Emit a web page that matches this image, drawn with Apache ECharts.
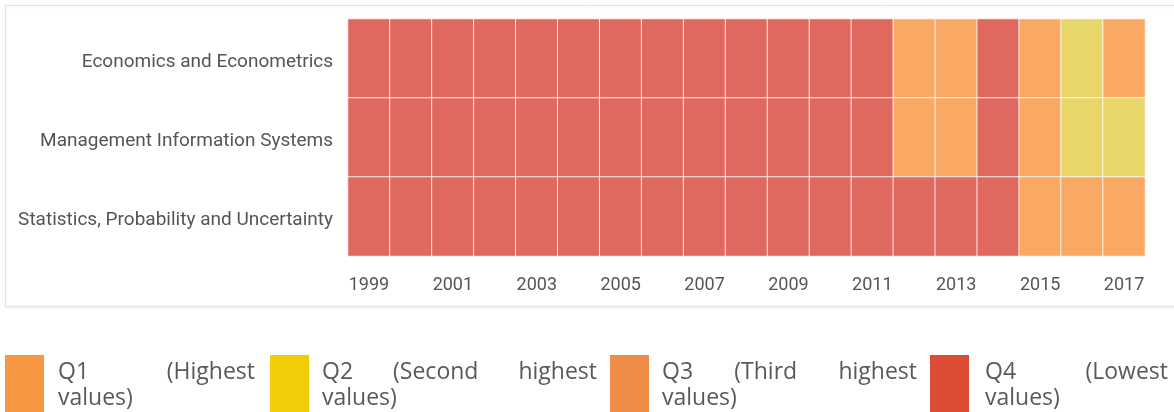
<!DOCTYPE html>
<html>
<head>
<meta charset="utf-8">
<script src="https://cdn.jsdelivr.net/npm/echarts@6/dist/echarts.min.js"></script>
<style>
  html, body { margin: 0; padding: 0; background: #fff; }
  #chart { width: 1174px; height: 412px; }
</style>
</head>
<body>
<div id="chart"></div>
<script>
const years = ['1999', '2000', '2001', '2002', '2003', '2004', '2005', '2006', '2007', '2008',
  '2009', '2010', '2011', '2012', '2013', '2014', '2015', '2016', '2017'];
const categories = ['Economics and Econometrics', 'Management Information Systems', 'Statistics, Probability and Uncertainty'];

// quartile per year (1 = Q1 ... 4 = Q4)
const econQuartiles = [4, 4, 4, 4, 4, 4, 4, 4, 4, 4, 4, 4, 4, 3, 3, 4, 3, 2, 3];
const misQuartiles = [4, 4, 4, 4, 4, 4, 4, 4, 4, 4, 4, 4, 4, 3, 3, 4, 3, 2, 2];
const statsQuartiles = [4, 4, 4, 4, 4, 4, 4, 4, 4, 4, 4, 4, 4, 4, 4, 4, 3, 3, 3];

const legendNames = ['Q1 (Highest values)', 'Q2 (Second highest values)', 'Q3 (Third highest values)', 'Q4 (Lowest values)'];
const legendColors = ['#f79741', '#efcd08', '#ef8c47', '#dd4c34'];
const cellColors = { 1: '#f79741', 2: '#e8d66a', 3: '#f9a963', 4: '#e0695f' };

const rows = [econQuartiles, misQuartiles, statsQuartiles];
const data = [];
rows.forEach((row, r) => {
  row.forEach((q, c) => data.push([c, r, q]));
});

// legend layout (justified text like the html legend, drawn as graphic text)
const legendFont = '23px "Open Sans"';
const measure = document.createElement('canvas').getContext('2d');
measure.font = legendFont;
const legendSlots = [
  { sw: 5, tx: 58, tr: 255 },
  { sw: 270, tx: 322, tr: 597 },
  { sw: 610, tx: 662, tr: 917 },
  { sw: 930, tx: 985, tr: 1168 }
];
const graphics = [{
  type: 'rect',
  z: -10,
  shape: { x: 5.5, y: 5.5, width: 1200, height: 301 },
  style: { fill: '#fff', stroke: '#e4e4e4', lineWidth: 1, shadowColor: 'rgba(0,0,0,0.08)', shadowBlur: 3, shadowOffsetY: 1 }
}];
legendNames.forEach((name, i) => {
  const slot = legendSlots[i];
  graphics.push({
    type: 'rect',
    shape: { x: slot.sw, y: 355, width: 39, height: 60 },
    style: { fill: legendColors[i] }
  });
  const words = name.split(' ');
  const first = words.slice(0, words.length - 1);
  const last = words[words.length - 1];
  const widths = first.map(w => measure.measureText(w).width);
  const total = widths.reduce((a, b) => a + b, 0);
  const gap = first.length > 1 ? (slot.tr - slot.tx - total) / (first.length - 1) : 0;
  let x = slot.tx;
  first.forEach((w, k) => {
    const isLast = first.length > 1 && k === first.length - 1;
    graphics.push({
      type: 'text',
      x: isLast ? slot.tr : x,
      y: 372,
      style: {
        text: w,
        font: legendFont,
        fill: '#595959',
        align: isLast ? 'right' : 'left',
        verticalAlign: 'middle'
      }
    });
    x += widths[k] + gap;
  });
  graphics.push({
    type: 'text',
    x: slot.tx,
    y: 398,
    style: { text: last, font: legendFont, fill: '#595959', align: 'left', verticalAlign: 'middle' }
  });
});

const chart = echarts.init(document.getElementById('chart'));
chart.setOption({
  animation: false,
  grid: { left: 348, top: 19, width: 797, height: 237 },
  xAxis: {
    type: 'category',
    data: years,
    axisLine: { show: false },
    axisTick: { show: false },
    splitArea: { show: false },
    axisLabel: { interval: 1, color: '#555', fontFamily: 'Roboto', fontSize: 18, margin: 20 }
  },
  yAxis: {
    type: 'category',
    data: categories,
    inverse: true,
    axisLine: { show: false },
    axisTick: { show: false },
    splitArea: { show: false },
    axisLabel: {
      margin: 15,
      formatter: '{a|{value}}',
      rich: { a: { color: '#555', fontFamily: 'Roboto', fontSize: 19, padding: [7, 0, 0, 0] } }
    }
  },
  visualMap: {
    type: 'piecewise',
    show: false,
    dimension: 2,
    pieces: [
      { value: 1, color: cellColors[1] },
      { value: 2, color: cellColors[2] },
      { value: 3, color: cellColors[3] },
      { value: 4, color: cellColors[4] }
    ]
  },
  series: [{
    type: 'heatmap',
    data: data,
    itemStyle: { borderColor: 'rgba(255,255,255,0.85)', borderWidth: 1 },
    emphasis: { disabled: true }
  }],
  graphic: graphics
});
</script>
</body>
</html>
